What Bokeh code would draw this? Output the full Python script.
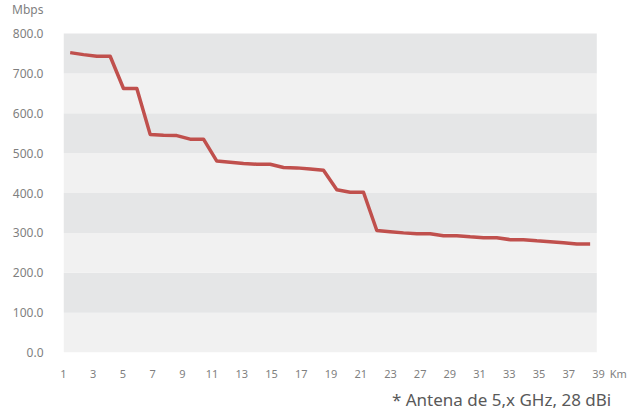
from bokeh.plotting import figure
from bokeh.models import (Range1d, LinearAxis, FixedTicker, PrintfTickFormatter,
                          BoxAnnotation)
from bokeh.embed import file_html
from bokeh.resources import INLINE

# ---- data ----
mbps = [752, 747, 743, 743, 662, 662, 547, 545, 544, 535,
        535, 480, 477, 474, 472, 472, 464, 463, 460, 457,
        408, 402, 402, 306, 303, 300, 298, 298, 293, 293,
        290, 288, 288, 283, 283, 280, 278, 275, 272, 272]
x_labels = ["1", "3", "5", "7", "9", "11", "13", "15", "17", "19", "21",
            "23", "27", "29", "31", "33", "35", "37", "39"]
y_ticks = [0, 100, 200, 300, 400, 500, 600, 700, 800]
unit_y = "Mbps"
unit_x = "Km"
note = "* Antena de 5,x GHz, 28 dBi"

FONT = "Noto Sans"
GRAY = "#7f7f7f"

n = len(mbps)
idx = list(range(n))
ymax = y_ticks[-1]

# frame covers from x=63 to the right edge and from the top edge to y=352
FRAME_L, FRAME_B, W, H = 63, 352, 642, 413
px_per_cat = 533.3 / n            # plotted area is 533 px wide
px_per_y = 319.0 / ymax           # 0..800 spans 319 px
px_per_lab = 29.72                # spacing of the x tick labels

x_end = (W - FRAME_L) / px_per_cat - 0.5
y_end = FRAME_B / px_per_y

p = figure(width=W, height=H, output_backend="svg", toolbar_location=None,
           x_range=Range1d(-0.5, x_end), y_range=Range1d(0, y_end),
           x_axis_location=None, min_border_left=FRAME_L, min_border_right=0,
           min_border_top=0, min_border_bottom=H - FRAME_B)
p.outline_line_color = None
p.grid.visible = False
p.background_fill_color = "white"
p.border_fill_color = "white"

# alternating bands over the plotted area
for i in range(len(y_ticks) - 1):
    p.add_layout(BoxAnnotation(left=-0.5, right=n - 0.5,
                               bottom=y_ticks[i], top=y_ticks[i + 1],
                               fill_color="#e5e6e7" if i % 2 == 1 else "#f1f1f1",
                               fill_alpha=1.0, line_color=None, level="underlay"))

p.line(idx, mbps, line_color="#c0504d", line_width=3.5, line_join="round")

# y axis (with the unit as the topmost label)
unit_y_pos = 875
ya = p.yaxis[0]
ya.ticker = FixedTicker(ticks=y_ticks + [unit_y_pos])
ya.formatter = PrintfTickFormatter(format="%.1f")
ya.major_label_overrides = {unit_y_pos: unit_y}
ya.axis_line_color = None
ya.major_tick_line_color = None
ya.minor_tick_line_color = None
ya.major_tick_out = 0
ya.major_label_standoff = 20
ya.major_label_text_font = FONT
ya.major_label_text_font_size = "12px"
ya.major_label_text_color = GRAY

# x label axis on its own range (units of 1/100 label step)
lab_end = (W - FRAME_L) / px_per_lab * 100
p.extra_x_ranges = {"lab": Range1d(0, lab_end)}
km_pos = round((618 - FRAME_L) / px_per_lab * 100)
ticks = [i * 100 for i in range(len(x_labels))] + [km_pos]
over = {i * 100: s for i, s in enumerate(x_labels)}
over[km_pos] = unit_x
xa = LinearAxis(x_range_name="lab", ticker=FixedTicker(ticks=ticks),
                major_label_overrides=over)
xa.axis_line_color = None
xa.major_tick_line_color = None
xa.minor_tick_line_color = None
xa.major_tick_out = 0
xa.major_label_standoff = 13
xa.major_label_text_font = FONT
xa.major_label_text_font_size = "11px"
xa.major_label_text_color = GRAY
p.add_layout(xa, "below")

# footnote as a second label row
note_pos = round((501 - FRAME_L) / px_per_lab * 100)
na = LinearAxis(x_range_name="lab", ticker=FixedTicker(ticks=[note_pos]),
                major_label_overrides={note_pos: note})
na.axis_line_color = None
na.major_tick_line_color = None
na.minor_tick_line_color = None
na.major_tick_out = 0
na.major_label_standoff = 4
na.major_label_text_font = FONT
na.major_label_text_font_size = "17px"
na.major_label_text_color = "#595959"
p.add_layout(na, "below")

open("out.html", "w").write(file_html(p, INLINE))
